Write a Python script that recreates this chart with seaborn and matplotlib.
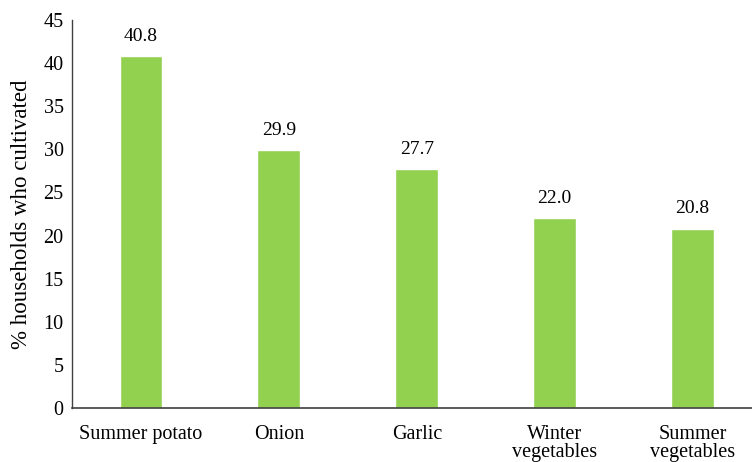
import matplotlib
matplotlib.use("Agg")
import matplotlib.pyplot as plt
import seaborn as sns
import pandas as pd

categories = ["Summer potato", "Onion", "Garlic", "Winter\nvegetables", "Summer\nvegetables"]
values = [40.8, 29.9, 27.7, 22.0, 20.8]
yticks = [0, 5, 10, 15, 20, 25, 30, 35, 40, 45]

sns.set_theme(style="white")
plt.rcParams['font.family'] = ['Liberation Serif', 'DejaVu Serif']

df = pd.DataFrame({"cat": categories, "val": values})

fig = plt.figure(figsize=(7.52, 4.62), dpi=100)
ax = fig.add_axes([0.0957, 0.1169, 0.9043, 0.8398])
sns.barplot(data=df, x="cat", y="val", color="#92D050", saturation=1, width=0.31, ax=ax)

for i, v in enumerate(values):
    ax.text(i, v + 1.3, f"{v:.1f}", ha="center", va="bottom", fontsize=14, color="#000000")

ax.set_ylim(0, 45)
ax.set_xlim(-0.5, 4.43)
ax.set_yticks(yticks)
ax.set_yticklabels([str(t) for t in yticks], fontsize=14.5)
ax.tick_params(axis="x", labelsize=14.5, length=0, pad=12, colors="#000000")
ax.tick_params(axis="y", length=0, pad=6, colors="#000000")
for lbl in ax.get_xticklabels():
    lbl.set_linespacing(0.95)
ax.set_xlabel("")
ax.set_ylabel("% households who cultivated", fontsize=16.5, labelpad=8, color="#000000")
sns.despine(ax=ax, top=True, right=True)
ax.spines["left"].set_color("#404040")
ax.spines["bottom"].set_color("#404040")
ax.spines["left"].set_linewidth(1.0)
ax.spines["bottom"].set_linewidth(1.2)

fig.savefig("out.png", dpi=100)
